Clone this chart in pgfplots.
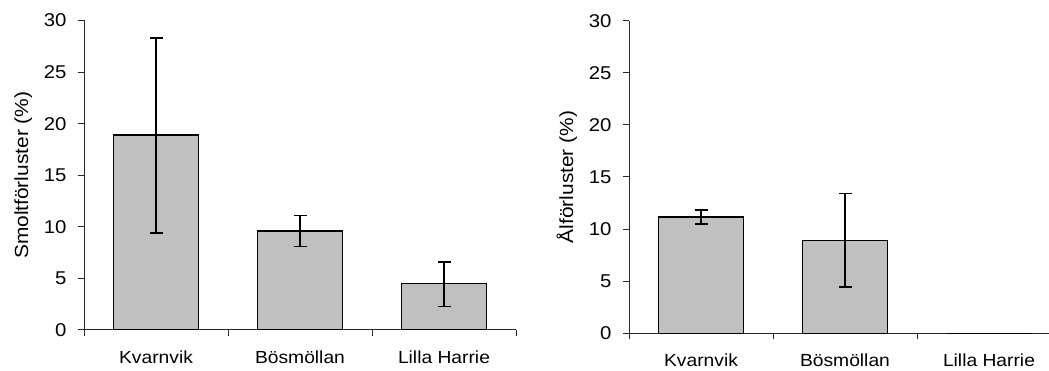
\documentclass[border=0pt]{standalone}
\usepackage{fontspec}
\setmainfont{Liberation Sans}[FakeStretch=1.1]
\usepackage{pgfplots}
\pgfplotsset{compat=1.18}
\definecolor{barfill}{RGB}{192,192,192}
\definecolor{axisgray}{RGB}{40,40,40}
\pgfplotsset{
  panel/.style={
    scale only axis,
    anchor=south west,
    axis lines*=left,
    axis line style={line width=1pt, axisgray},
    ymin=0, ymax=30,
    ytick={0,5,10,15,20,25,30},
    xmin=-0.5,
    xtick={-0.5,0.5,1.5,2.5},
    xticklabels={},
    extra x ticks={0,1,2},
    extra x tick labels={Kvarnvik,Bösmöllan,Lilla Harrie},
    extra x tick style={major tick length=0pt, xticklabel style={yshift=-17pt}},
    tick align=outside,
    major tick length=6pt,
    tick style={axisgray, line width=1pt},
    xticklabel style={font=\fontsize{17.5}{21}\selectfont},
    yticklabel style={font=\fontsize{18.5}{21}\selectfont, xshift=-8pt},
    /pgf/number format/assume math mode=true,
    ylabel style={font=\fontsize{19}{22}\selectfont, anchor=center},
    ybar,
    bar width=85pt,
  },
  barstyle/.style={draw=black, line width=1.5pt, fill=barfill,
    error bars/.cd, y dir=both, y explicit,
    error bar style={line width=1.4pt, black},
    error mark options={rotate=90, mark size=6.5pt, line width=1.4pt, black}},
}
\pgfplotstableread{
x y ep em
0 18.9 9.4 9.5
1 9.6 1.5 1.5
2 4.5 2.1 2.2
}\smolt
\pgfplotstableread{
x y ep em
0 11.15 0.7 0.65
1 8.9 4.5 4.45
2 0 0 0
}\al
\begin{document}
\begin{tikzpicture}[x=1pt,y=1pt]
\begin{axis}[panel,
  at={(84pt,41pt)},
  width=432pt, height=309.5pt,
  xmax=2.5,
  ylabel={Smoltförluster (\%)},
  ylabel style={at={(axis description cs:-0.141,0.5)}},
]
\addplot[barstyle]
  table[x=x, y=y, y error plus=ep, y error minus=em] {\smolt};
\end{axis}
\begin{axis}[panel,
  at={(629pt,37.7pt)},
  width=420pt, height=312.6pt,
  xmax=2.41667,
  ylabel={Ålförluster (\%)},
  ylabel style={at={(axis description cs:-0.148,0.5)}},
]
\addplot[barstyle]
  table[x=x, y=y, y error plus=ep, y error minus=em] {\al};
\end{axis}
\pgfresetboundingbox
\useasboundingbox (0,0) rectangle (1049pt,371pt);
\end{tikzpicture}
\end{document}
